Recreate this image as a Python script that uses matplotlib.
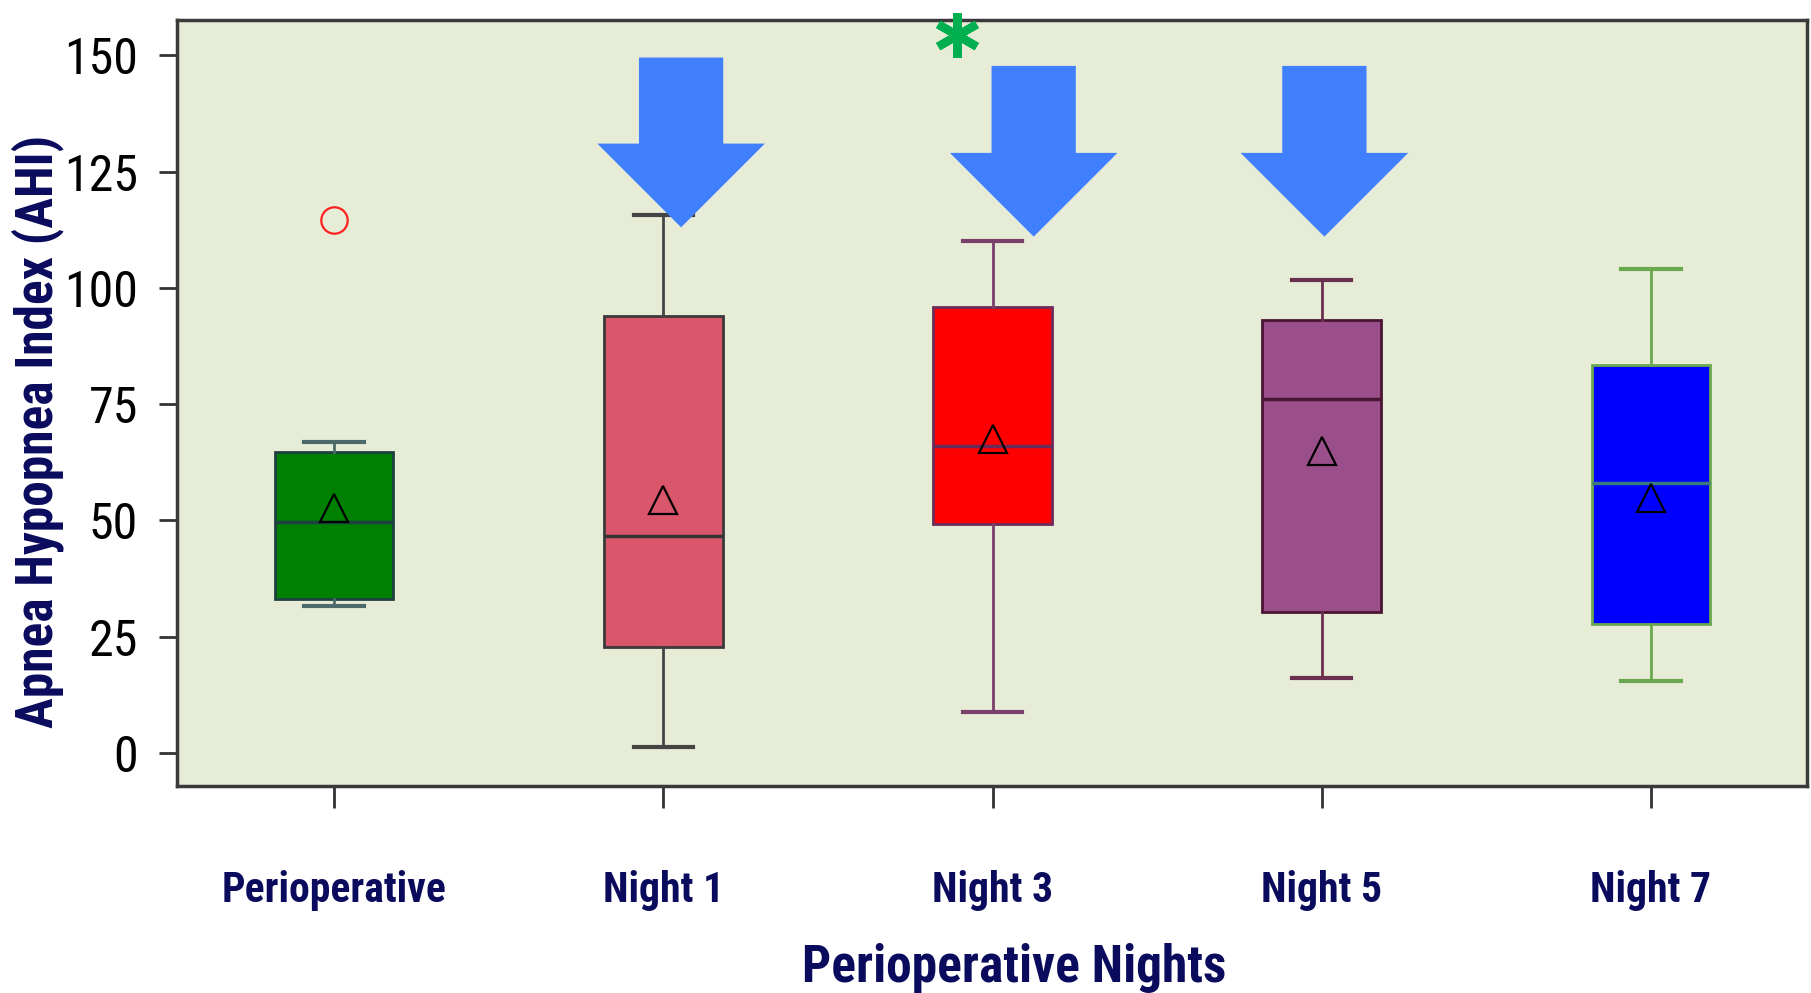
import matplotlib.pyplot as plt
from matplotlib.patches import FancyArrow

# box statistics
groups = ['Perioperative', 'Night 1', 'Night 3', 'Night 5', 'Night 7']
whis_lo = [31.5, 1.2, 8.7, 16.1, 15.4]
q1 = [33.0, 22.8, 49.2, 30.3, 27.8]
med = [49.7, 46.7, 66.0, 76.2, 58.1]
q3 = [64.8, 93.9, 95.9, 93.1, 83.4]
whis_hi = [66.8, 115.7, 110.0, 101.6, 104.0]
means = [52.6, 54.4, 67.5, 65.0, 54.9]
outliers = [[114.5], [], [], [], []]

face_cols = ['#008000', '#d9566b', '#ff0000', '#9b4f8a', '#0000ff']
edge_cols = ['#1d4040', '#3a3a3a', '#6b2c5a', '#4a1535', '#6aa84f']
whisk_cols = ['#4d6a6a', '#444444', '#7b3f6b', '#6b3050', '#6aa84f']
med_cols = ['#1d4040', '#333333', '#6b2c5a', '#4a1535', '#3a7a7a']

# down arrows (x position, shaft top, tip) and significance star
arrow_x = [1.054, 2.125, 3.008]
arrow_top = [149.5, 147.7, 147.7]
arrow_tip = [113.0, 111.0, 111.0]
star_x, star_y = 1.892, 154.4

font_narrow = ['Roboto Condensed', 'Barlow Condensed', 'Archivo Narrow', 'Liberation Sans']
navy = '#0b0b5e'

fig = plt.figure(figsize=(18.11, 9.93), dpi=100)
ax = fig.add_axes([0.0976, 0.208, 0.9002, 0.772])
ax.set_facecolor('#e7ecd7')

pos = list(range(len(groups)))
for i in pos:
    st = dict(med=med[i], q1=q1[i], q3=q3[i], whislo=whis_lo[i], whishi=whis_hi[i],
              mean=means[i], fliers=outliers[i])
    ax.bxp([st], positions=[i], widths=0.36, patch_artist=True, showmeans=True,
           boxprops=dict(facecolor=face_cols[i], edgecolor=edge_cols[i], linewidth=2),
           whiskerprops=dict(color=whisk_cols[i], linewidth=2),
           capprops=dict(color=whisk_cols[i], linewidth=3),
           medianprops=dict(color=med_cols[i], linewidth=2.5),
           meanprops=dict(marker='^', markersize=20, markerfacecolor='none',
                          markeredgecolor='black', markeredgewidth=1.6),
           flierprops=dict(marker='o', markersize=19, markerfacecolor='none',
                           markeredgecolor='#ff2020', markeredgewidth=1.6))

for x, top, tip in zip(arrow_x, arrow_top, arrow_tip):
    ax.add_patch(FancyArrow(x, top, 0, tip - top, width=0.256, head_width=0.509,
                            head_length=18, length_includes_head=True,
                            color='#4080ff', linewidth=0, zorder=5))

ax.plot(star_x, star_y, marker=(6, 2, 0), markersize=32, markeredgewidth=6,
        color='#00b050', clip_on=False, zorder=10)

ax.set_xlim(-0.478, 4.474)
ax.set_ylim(-7.2, 157.6)
ax.set_yticks([0, 25, 50, 75, 100, 125, 150])
ax.set_xticks(pos)
ax.set_xticklabels(groups, fontsize=30, fontweight='bold', color=navy, family=font_narrow)
for lab in ax.get_yticklabels():
    lab.set_fontsize(36)
    lab.set_family(font_narrow)
ax.tick_params(axis='y', length=13, width=2, color='#333333', pad=15)
ax.tick_params(axis='x', length=16, width=2, color='#333333', pad=44)
for sp in ax.spines.values():
    sp.set_color('#3a3a3a')
    sp.set_linewidth(2.5)

fig.text(38 / 1811, 1 - 431 / 993, 'Apnea Hypopnea Index (AHI)', rotation=90,
         ha='center', va='center', fontsize=37, fontweight='bold', color=navy,
         family=font_narrow)
fig.text(1014 / 1811, 1 - 968 / 993, 'Perioperative Nights', ha='center', va='center',
         fontsize=37, fontweight='bold', color=navy, family=font_narrow)

fig.savefig('out.png', dpi=100)
